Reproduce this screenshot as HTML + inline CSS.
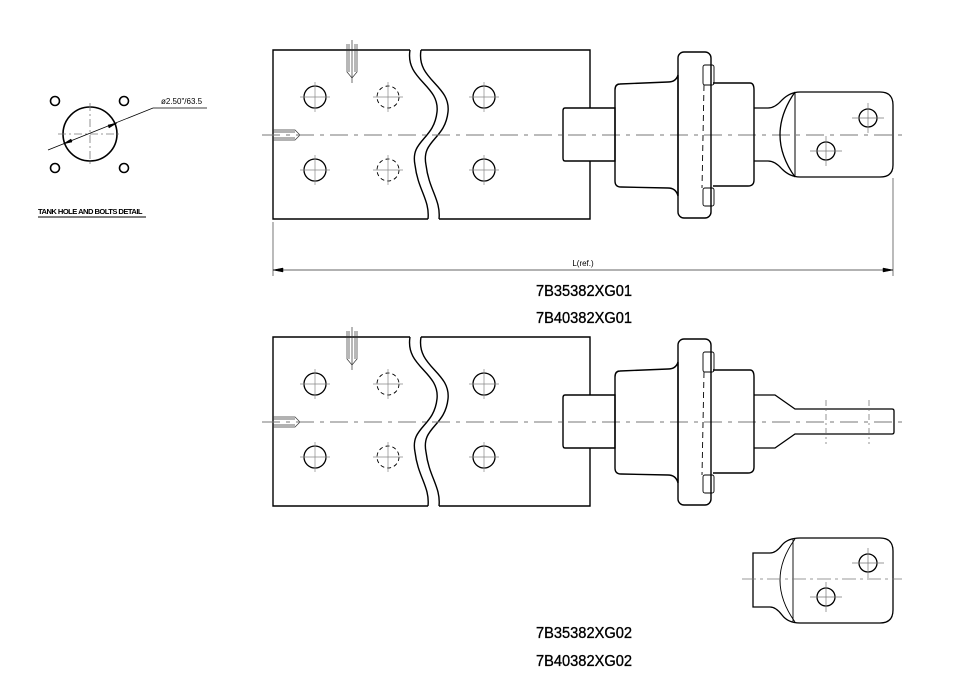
<!DOCTYPE html>
<html><head><style>
body{margin:0;background:#fff;}
svg{display:block;}
text{font-family:"Liberation Sans",sans-serif;}
</style></head><body>
<svg width="958" height="678" viewBox="0 0 958 678" xmlns="http://www.w3.org/2000/svg">
<defs>
<g id="plate" fill="none" stroke="#000" stroke-width="1.4">
  <path d="M410,50 L273,50 L273,219 L428,219"/>
  <path d="M410,50 C405,80 440,85 437,112 C434,140 410,140 415,165 C418,190 430,200 428,219"/>
  <path d="M421,50 L590,50 L590,108 M590,161 L590,219 L439,219"/>
  <path d="M421,50 C416,80 451,85 448,112 C445,140 421,140 426,165 C429,190 441,200 439,219"/>
  <g stroke-width="1.3">
  <circle cx="315" cy="97" r="11"/><circle cx="484" cy="97" r="11"/>
  <circle cx="315" cy="170" r="11"/><circle cx="484" cy="170" r="11"/>
  <circle cx="388" cy="97" r="11" stroke-dasharray="4,3" stroke-width="0.9"/>
  <circle cx="388" cy="170" r="11" stroke-dasharray="4,3" stroke-width="0.9"/>
  </g>
  <g stroke="#888" stroke-width="0.7">
  <path d="M300,97h30M315,82v30M469,97h30M484,82v30M300,170h30M315,155v30M469,170h30M484,155v30M373,97h30M388,82v30M373,170h30M388,155v30"/>
  </g>
  <g stroke-width="0.7" stroke="#333">
  <path d="M347,44v28l5,6l5,-6v-28M349,44v28M355,44v28M352,40v43"/>
  <path d="M273,130h22l5,5l-5,5h-22M273,132h22M273,138h22"/>
  </g>
  <line x1="262" y1="135" x2="905" y2="135" stroke="#777" stroke-width="1" stroke-dasharray="18,6,4,6"/>
  <path d="M565,108 H615 V161 H565 Q563,161 563,158 V111 Q563,108 565,108 Z"/>
  <path d="M620,84 Q615,84 615,90 V181 Q615,187 621,187 L668,188 Q676,188 678,196 V75 Q676,82 668,82 Z"/>
  <rect x="678" y="52" width="33" height="166" rx="6"/>
  <path d="M713,83 H750 Q754,83 754,90 V180 Q754,186 748,186 H713"/>
  <rect x="703" y="65" width="11" height="20" rx="2" stroke-width="0.9"/>
  <rect x="703" y="188" width="11" height="18" rx="2" stroke-width="0.9"/>
  <line x1="704" y1="85" x2="702" y2="188" stroke-dasharray="6,4" stroke-width="0.9"/>
</g>
</defs>
<g fill="none" stroke="#000" stroke-width="1.3">
<use href="#plate"/>
<use href="#plate" transform="translate(0,287)"/>
<path d="M754,108 H768 Q775,108 782,100 Q790,92 800,92 H880 Q893,92 893,105 V165 Q893,177 880,177 H800 Q790,177 782,169 Q775,161 768,161 H754"/>
<path d="M795,92 Q765,135 795,177"/>
<line x1="795" y1="92" x2="795" y2="177" stroke-width="1"/>
<circle cx="868" cy="118" r="9"/><circle cx="826" cy="151" r="9"/>
<path d="M852,118h32M868,103v30M810,151h32M826,136v30" stroke="#777" stroke-width="0.7"/>
<path d="M754,395 H775 L795,409 H892 Q894,409 894,411 V432 Q894,434 892,434 H795 L775,448 H754"/>
<path d="M826,400v44M869,400v44" stroke="#666" stroke-width="0.7" stroke-dasharray="6,3,2,3"/>
<path d="M753,553 H770 Q776,553 782,545 Q788,538 800,538 H880 Q893,538 893,551 V610 Q893,623 880,623 H800 Q788,623 782,615 Q776,607 770,607 H753 Z"/>
<path d="M795,539 Q765,580 795,622" stroke-width="0.9"/>
<line x1="793" y1="539" x2="793" y2="622" stroke-width="0.9"/>
<circle cx="868" cy="563" r="9"/><circle cx="826" cy="597" r="9"/>
<path d="M852,563h32M868,548v30M810,597h32M826,582v30" stroke="#777" stroke-width="0.7"/>
<line x1="742" y1="579" x2="902" y2="579" stroke="#777" stroke-width="0.8" stroke-dasharray="14,4,3,4"/>
<path d="M273,222V276M893,178V276" stroke="#555" stroke-width="0.8"/>
<line x1="273" y1="270" x2="893" y2="270" stroke="#333" stroke-width="0.8"/>
<path d="M273,270l10,-2v4zM893,270l-10,-2v4z" fill="#000" stroke-width="0.5"/>
<g stroke-width="1.6">
<circle cx="55" cy="101" r="4.5"/><circle cx="124" cy="101" r="4.5"/>
<circle cx="55" cy="168" r="4.5"/><circle cx="124" cy="168" r="4.5"/>
<circle cx="90" cy="134" r="27"/>
</g>
<path d="M58,134h62M90,103v62" stroke="#777" stroke-width="0.8" stroke-dasharray="8,3,2,3"/>
<path d="M48,150 L153,108 H207" stroke="#000" stroke-width="0.8"/>
<path d="M63,144l8,-5l1,3zM117,123l-8,5l-1,-3z" fill="#000" stroke-width="0.5"/>
<line x1="38" y1="217" x2="146" y2="217" stroke-width="1"/>
</g>
<text x="161" y="104" font-size="8" fill="#000">ø2.50"/63.5</text>
<text x="38" y="214" font-size="7" font-weight="bold" letter-spacing="-0.5" fill="#000" textLength="104" lengthAdjust="spacingAndGlyphs">TANK HOLE AND BOLTS DETAIL</text>
<text x="583" y="266" font-size="8" fill="#000" text-anchor="middle">L(ref.)</text>
<g font-size="16" fill="#000" stroke="#000" stroke-width="0.35" text-anchor="middle">
<text x="584" y="296" textLength="96" lengthAdjust="spacingAndGlyphs">7B35382XG01</text>
<text x="584" y="323" textLength="96" lengthAdjust="spacingAndGlyphs">7B40382XG01</text>
<text x="584" y="638" textLength="96" lengthAdjust="spacingAndGlyphs">7B35382XG02</text>
<text x="584" y="666" textLength="96" lengthAdjust="spacingAndGlyphs">7B40382XG02</text>
</g>
</svg>
</body></html>
